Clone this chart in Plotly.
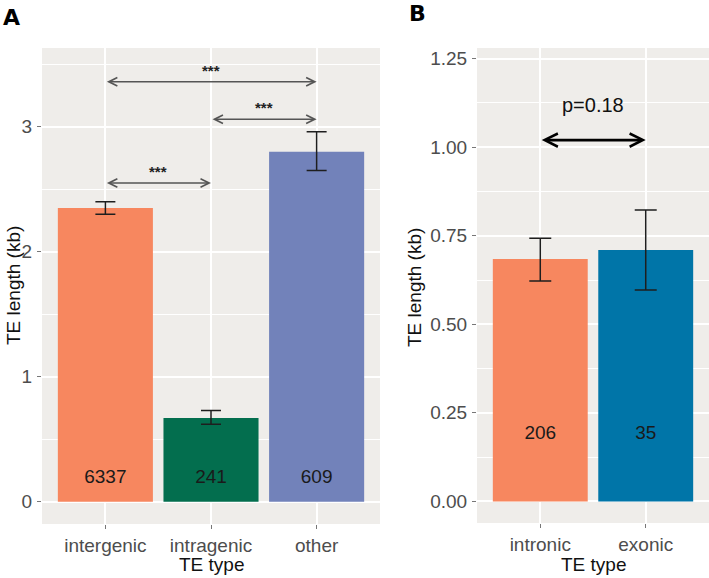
import plotly.graph_objects as go

# ---------------- data ----------------
cats_a = ["intergenic", "intragenic", "other"]
mean_a = [2.35, 0.67, 2.80]
upper_a = [2.40, 0.73, 2.96]
lower_a = [2.30, 0.62, 2.65]
count_a = [6337, 241, 609]
colors_a = ["#F7875F", "#036E4E", "#7282BA"]

cats_b = ["intronic", "exonic"]
mean_b = [0.684, 0.71]
upper_b = [0.743, 0.823]
lower_b = [0.622, 0.597]
count_b = [206, 35]
colors_b = ["#F7875F", "#0075A8"]

# significance brackets: (from, to, arrow height, label height, label)
sig_a = [
    ("intergenic", "other", 3.36, 3.45, "***"),
    ("intragenic", "other", 3.06, 3.15, "***"),
    ("intergenic", "intragenic", 2.55, 2.64, "***"),
]
sig_b = [("intronic", "exonic", 1.02, 1.118, "p=0.18")]

count_y_a = 0.19
count_y_b = 0.19

FONT = "Arial, Liberation Sans, sans-serif"
W, H = 709, 578

fig = go.Figure()

fig.add_trace(go.Bar(
    x=cats_a, y=mean_a, width=0.9, marker=dict(color=colors_a, line=dict(width=0)),
    error_y=dict(type="data", symmetric=False,
                 array=[u - m for u, m in zip(upper_a, mean_a)],
                 arrayminus=[m - l for m, l in zip(mean_a, lower_a)],
                 color="#1E1E1E", thickness=1.5, width=10),
    xaxis="x", yaxis="y", showlegend=False))
fig.add_trace(go.Scatter(
    x=cats_a, y=[count_y_a] * len(cats_a), mode="text", text=[str(c) for c in count_a],
    textfont=dict(size=19, color="#1A1A1A", family=FONT), xaxis="x", yaxis="y",
    showlegend=False))

fig.add_trace(go.Bar(
    x=cats_b, y=mean_b, width=0.9, marker=dict(color=colors_b, line=dict(width=0)),
    error_y=dict(type="data", symmetric=False,
                 array=[u - m for u, m in zip(upper_b, mean_b)],
                 arrayminus=[m - l for m, l in zip(mean_b, lower_b)],
                 color="#1E1E1E", thickness=1.5, width=11),
    xaxis="x2", yaxis="y2", showlegend=False))
fig.add_trace(go.Scatter(
    x=cats_b, y=[count_y_b] * len(cats_b), mode="text", text=[str(c) for c in count_b],
    textfont=dict(size=19, color="#1A1A1A", family=FONT), xaxis="x2", yaxis="y2",
    showlegend=False))

annotations = []
for a, b, ya, yl, lab in sig_a:
    ia, ib = cats_a.index(a), cats_a.index(b)
    annotations.append(dict(x=ib, y=ya, ax=ia, ay=ya, xref="x", yref="y", axref="x", ayref="y",
                            text="", showarrow=True, arrowside="end+start", arrowhead=5,
                            arrowsize=1.3, arrowwidth=1.3, arrowcolor="#555555",
                            standoff=0, startstandoff=0))
    annotations.append(dict(x=(ia + ib) / 2, y=yl, xref="x", yref="y", text="<b>" + lab + "</b>",
                            xanchor="center", yanchor="middle",
                            showarrow=False, font=dict(size=15, color="#222222", family=FONT)))
for a, b, ya, yl, lab in sig_b:
    ia, ib = cats_b.index(a), cats_b.index(b)
    annotations.append(dict(x=ib, y=ya, ax=ia, ay=ya, xref="x2", yref="y2", axref="x2", ayref="y2",
                            text="", showarrow=True, arrowside="end+start", arrowhead=5,
                            arrowsize=1.0, arrowwidth=2.6, arrowcolor="#000000",
                            standoff=0, startstandoff=0))
    annotations.append(dict(x=(ia + ib) / 2, y=yl, xref="x2", yref="y2", text=lab,
                            xanchor="center", yanchor="middle",
                            showarrow=False, font=dict(size=20, color="#111111", family=FONT)))

# axis titles & panel labels
def px(x):
    return x / W

def py(y):
    return 1 - y / H

def lab(x, y, text, size=19, angle=0, color="#111111", family=FONT):
    return dict(x=px(x), y=py(y), xref="paper", yref="paper", text=text, textangle=angle,
                xanchor="center", yanchor="middle", showarrow=False,
                font=dict(size=size, color=color, family=family))

annotations += [
    lab(13, 286, "TE length (kb)", angle=-90),
    lab(414, 288, "TE length (kb)", angle=-90),
    lab(211, 564, "TE type"),
    lab(593, 564, "TE type"),
    lab(11, 17, "<b>A</b>", size=22, color="#000000", family="DejaVu Sans, Verdana, sans-serif"),
    lab(417, 13, "<b>B</b>", size=22, color="#000000", family="DejaVu Sans, Verdana, sans-serif"),
]

common_x = dict(type="category", showgrid=True, gridcolor="white", gridwidth=1.8,
                ticks="outside", ticklen=4, tickcolor="#777777", tickwidth=1,
                tickfont=dict(size=19, color="#4D4D4D", family=FONT), zeroline=False,
                showline=False, automargin=False, fixedrange=True)
common_y = dict(showgrid=True, gridcolor="white", gridwidth=1.8,
                ticks="outside", ticklen=4, tickcolor="#777777", tickwidth=1,
                ticklabelstandoff=1,
                tickfont=dict(size=19, color="#4D4D4D", family=FONT), zeroline=False,
                showline=False, automargin=False, fixedrange=True)

fig.update_layout(
    width=W, height=H, margin=dict(l=0, r=0, t=0, b=0),
    paper_bgcolor="white", plot_bgcolor="#EFEDEA",
    font=dict(family=FONT),
    bargap=0.1,
    xaxis=dict(domain=[px(42), px(380)], range=[-0.6, 2.6], anchor="y", **common_x),
    yaxis=dict(domain=[py(524), py(48)], range=[-0.178, 3.63], anchor="x",
               tickvals=[0, 1, 2, 3], ticktext=["0", "1", "2", "3"],
               minor=dict(tickvals=[0.5, 1.5, 2.5, 3.5], showgrid=True, gridcolor="white",
                          gridwidth=0.9, ticks=""),
               **common_y),
    xaxis2=dict(domain=[px(477), px(709)], range=[-0.6, 1.6], anchor="y2", **common_x),
    yaxis2=dict(domain=[py(523), py(48)], range=[-0.061, 1.28], anchor="x2",
                tickvals=[0, 0.25, 0.5, 0.75, 1.0, 1.25],
                ticktext=["0.00", "0.25", "0.50", "0.75", "1.00", "1.25"],
                minor=dict(tickvals=[0.125, 0.375, 0.625, 0.875, 1.125], showgrid=True,
                           gridcolor="white", gridwidth=0.9, ticks=""),
                **common_y),
    annotations=annotations,
)

fig.write_html("out.html", config={"displayModeBar": False},
               post_script="document.body.style.margin='0px';document.body.style.overflow='hidden';")
